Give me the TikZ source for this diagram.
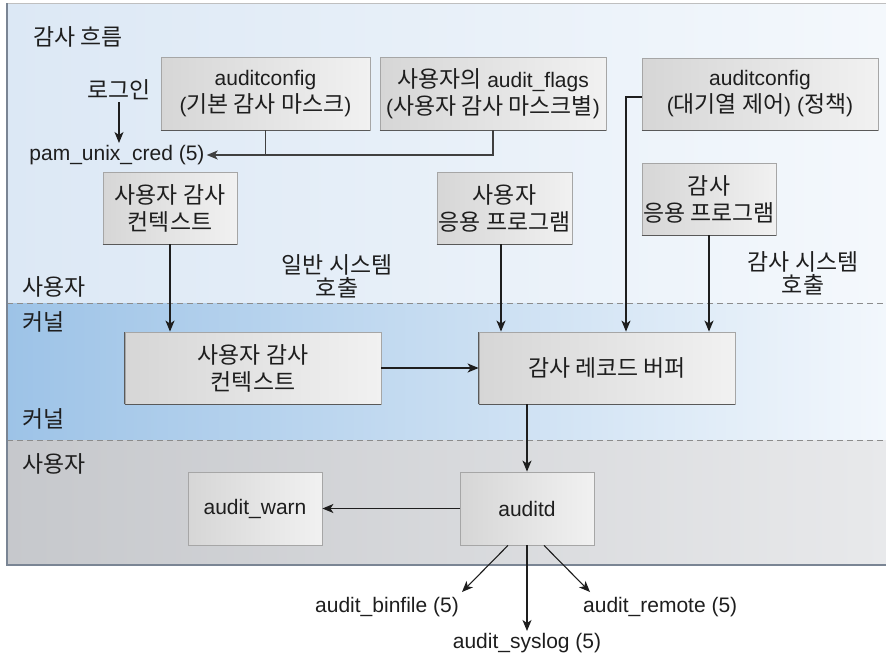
\documentclass[tikz,border=0pt]{standalone}
\usepackage{fontspec}
\setmainfont{Liberation Sans}
\newfontfamily\korfont{Noto Sans CJK KR}[Scale=1.09]
\newcommand{\kor}[1]{{\korfont #1}}
\usetikzlibrary{arrows.meta,calc}

\definecolor{topL}{HTML}{DCE8F5}
\definecolor{topR}{HTML}{F4F8FC}
\definecolor{kerL}{HTML}{9DC3E7}
\definecolor{kerR}{HTML}{F2F7FC}
\definecolor{botL}{HTML}{C6C8CC}
\definecolor{botR}{HTML}{E8E9EB}
\definecolor{frameC}{HTML}{7A8594}
\definecolor{boxL}{HTML}{D6D6D6}
\definecolor{boxR}{HTML}{F1F1F1}
\definecolor{inkC}{HTML}{1E1E1E}

\tikzset{
  boxst/.style={draw=black!35, line width=0.8pt, left color=boxL, right color=boxR,
    inner sep=0pt, align=center, text=inkC},
  lbl/.style={inner sep=2pt, align=center, text=inkC, font=\fontsize{21}{23}\selectfont},
  arr/.style={-{Stealth[length=11pt,width=9pt,inset=3pt]}, line width=1.4pt, draw=inkC},
  wire/.style={line width=1.2pt, draw=black!75},
  thinarr/.style={-{Stealth[length=11pt,width=9pt,inset=3pt]}, line width=1.1pt, draw=inkC},
  band/.style={dashed, dash pattern=on 6pt off 4pt, draw=black!45, line width=0.8pt}
}

\begin{document}
\begin{tikzpicture}[x=1pt,y=-1pt, font=\fontsize{21}{27}\selectfont]
\useasboundingbox (0,0) rectangle (886,656);

% background bands: user space, kernel, user space
\fill[left color=topL, right color=topR] (7,3) rectangle (886,303);
\fill[left color=kerL, right color=kerR] (7,303) rectangle (886,440);
\fill[left color=botL, right color=botR] (7,440) rectangle (886,565);
\draw[band] (7,303) -- (886,303);
\draw[band] (7,440) -- (886,440);
\draw[draw=black!25, line width=0.8pt] (7,3) -- (886,3);
\draw[draw=frameC, line width=1.2pt] (7,3) -- (7,565) -- (886,565);

% region labels
\node[lbl, anchor=west] (title) at (31,37) {\kor{감사 흐름}};
\node[lbl, anchor=west] (userA) at (20,287) {\kor{사용자}};
\node[lbl, anchor=west] (kernA) at (20,322) {\kor{커널}};
\node[lbl, anchor=west] (kernB) at (20,419) {\kor{커널}};
\node[lbl, anchor=west] (userB) at (20,464) {\kor{사용자}};

% login path
\node[lbl] (login) at (119,90) {\kor{로그인}};
\node[lbl] (pam) at (117,155) {pam\_unix\_cred (5)};

% configuration boxes
\node[boxst, minimum width=209pt, minimum height=73pt] (cfg1) at (265.5,93.5)
  {auditconfig\\(\kor{기본 감사 마스크})};
\node[boxst, minimum width=226pt, minimum height=73pt] (flags) at (493,93.5)
  {\kor{사용자의} audit\_flags\\(\kor{사용자 감사 마스크별})};
\node[boxst, minimum width=236pt, minimum height=72pt] (cfg2) at (760,94)
  {auditconfig\\(\kor{대기열 제어}) (\kor{정책})};

% user-level programs
\node[boxst, minimum width=134pt, minimum height=72pt] (uctx) at (170,208)
  {\kor{사용자 감사}\\\kor{컨텍스트}};
\node[boxst, minimum width=135pt, minimum height=72pt] (uapp) at (504.5,208)
  {\kor{사용자}\\\kor{응용 프로그램}};
\node[boxst, minimum width=134pt, minimum height=72pt] (aapp) at (709,199)
  {\kor{감사}\\\kor{응용 프로그램}};

\node[lbl] (syscall) at (337,276) {\kor{일반 시스템}\\\kor{호출}};
\node[lbl] (auditcall) at (803,273.5) {\kor{감사 시스템}\\\kor{호출}};

% kernel boxes
\node[boxst, minimum width=256pt, minimum height=72pt] (kctx) at (253,368)
  {\kor{사용자 감사}\\\kor{컨텍스트}};
\node[boxst, minimum width=256pt, minimum height=72pt] (buf) at (607,368)
  {\kor{감사 레코드 버퍼}};

% daemon level
\node[boxst, minimum width=134pt, minimum height=73pt] (warn) at (255,508.5) {audit\_warn};
\node[boxst, minimum width=134pt, minimum height=73pt] (auditd) at (527,508.5) {auditd};

% shadowed lower edges
\foreach \n in {cfg1,flags,cfg2,uctx,uapp,aapp,kctx,buf}
  \draw[black!65, line width=1pt] (\n.south west) -- (\n.south east);
\foreach \n in {kctx,buf}
  \draw[black!65, line width=1pt] (\n.south west) -- (\n.north west);

% output plugins
\node[lbl] (binfile) at (387,607) {audit\_binfile (5)};
\node[lbl, anchor=west] (remote) at (581,607) {audit\_remote (5)};
\node[lbl] (syslog) at (527,643) {audit\_syslog (5)};

% connectors
\draw[arr] (login.south) -- (login.south |- pam.north);
\draw[wire] (cfg1.south) -- (cfg1.south |- pam.east);
\draw[wire, -{Stealth[length=11pt,width=9pt,inset=3pt]}] (flags.south) |- (pam.east);

\coordinate (cfgturn) at (626,97);
\draw[thinarr] (cfg2.west |- cfgturn) -- (cfgturn) -- (cfgturn |- buf.north);

\draw[arr] (uctx.south) -- (uctx.south |- kctx.north);
\draw[arr] ([xshift=-3.5pt]uapp.south) -- ([xshift=-3.5pt]uapp.south |- buf.north);
\draw[arr] (aapp.south) -- (aapp.south |- buf.north);
\draw[arr] (kctx.east) -- (buf.west);
\draw[arr] (auditd.north |- buf.south) -- (auditd.north);
\draw[arr] (auditd.west) -- (warn.east);

\coordinate (binend) at (462,592);
\coordinate (remend) at (590,592);
\draw[thinarr] ($(auditd.south)+(-19,0)$) -- (binend);
\draw[arr] (auditd.south) -- (syslog.north);
\draw[thinarr] ($(auditd.south)+(17,0)$) -- (remend);
\end{tikzpicture}
\end{document}
